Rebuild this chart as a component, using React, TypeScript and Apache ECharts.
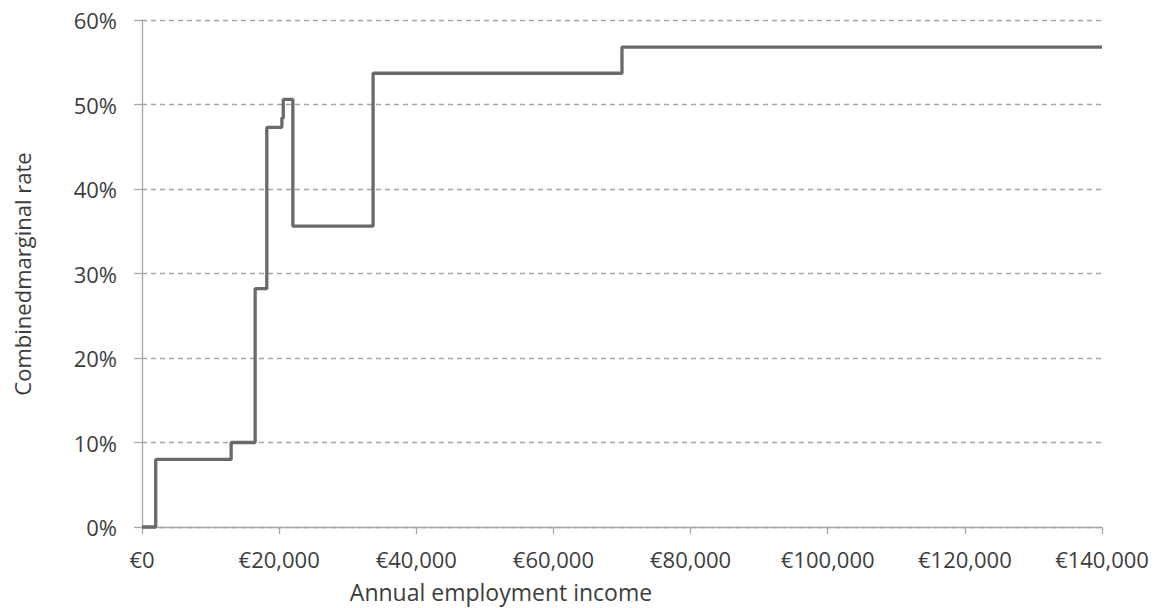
import React, { useEffect, useRef } from "react";
import * as echarts from "echarts";

const incomes = [0, 2000, 13000, 16500, 18200, 20400, 20600, 22000, 33700, 70000, 140000];
const rates = [0, 8.0, 10.0, 28.2, 47.3, 48.4, 50.6, 35.6, 53.7, 56.8, 56.8];
const xTitle = "Annual employment income";
const yTitle = "Combinedmarginal rate";

const FONT = '"Open Sans", sans-serif';
const TXT = "#3d3d3d";
const AXIS = "#a6a6a6";

export default function App() {
  const ref = useRef<HTMLDivElement>(null);
  useEffect(() => {
    const chart = echarts.init(ref.current!, null, { renderer: "svg" });
    const data = incomes.map((x, i) => [x, rates[i]]);
    chart.setOption({
      animation: false,
      backgroundColor: "#ffffff",
      grid: { left: 142, right: 57, top: 20, bottom: 81, containLabel: false },
      xAxis: {
        type: "value",
        min: 0,
        max: 140000,
        interval: 20000,
        axisLine: { show: true, lineStyle: { color: AXIS, width: 1.3 } },
        axisTick: { show: true, length: 7, lineStyle: { color: AXIS, width: 1.3 } },
        splitLine: { show: false },
        axisLabel: {
          margin: 21,
          color: TXT,
          fontFamily: FONT,
          fontSize: 22,
          formatter: (v: number) => "€" + v.toLocaleString("en-US"),
        },
      },
      yAxis: {
        type: "value",
        min: 0,
        max: 60,
        interval: 10,
        axisLine: { show: true, lineStyle: { color: AXIS, width: 1.3 } },
        axisTick: { show: true, length: 8, lineStyle: { color: AXIS, width: 1.3 } },
        splitLine: { show: true, lineStyle: { color: AXIS, type: [5, 4], width: 1.3 } },
        axisLabel: {
          margin: 25,
          color: TXT,
          fontFamily: FONT,
          fontSize: 22,
          formatter: "{value}%",
        },
      },
      graphic: [
        {
          type: "text",
          x: 501,
          y: 592,
          style: { text: xTitle, fill: TXT, font: `23px ${FONT}`, align: "center", verticalAlign: "middle" },
        },
        {
          type: "text",
          x: 22,
          y: 274,
          rotation: Math.PI / 2,
          style: { text: yTitle, fill: TXT, font: `22px ${FONT}`, align: "center", verticalAlign: "middle" },
        },
      ],
      series: [
        {
          type: "line",
          step: "end",
          data,
          showSymbol: false,
          lineStyle: { color: "#6a6a6a", width: 3.3 },
          clip: false,
        },
      ],
    });
    return () => chart.dispose();
  }, []);
  return (
    <div
      ref={ref}
      style={{ position: "fixed", left: 0, top: 0, width: 1159, height: 608 }}
    />
  );
}
